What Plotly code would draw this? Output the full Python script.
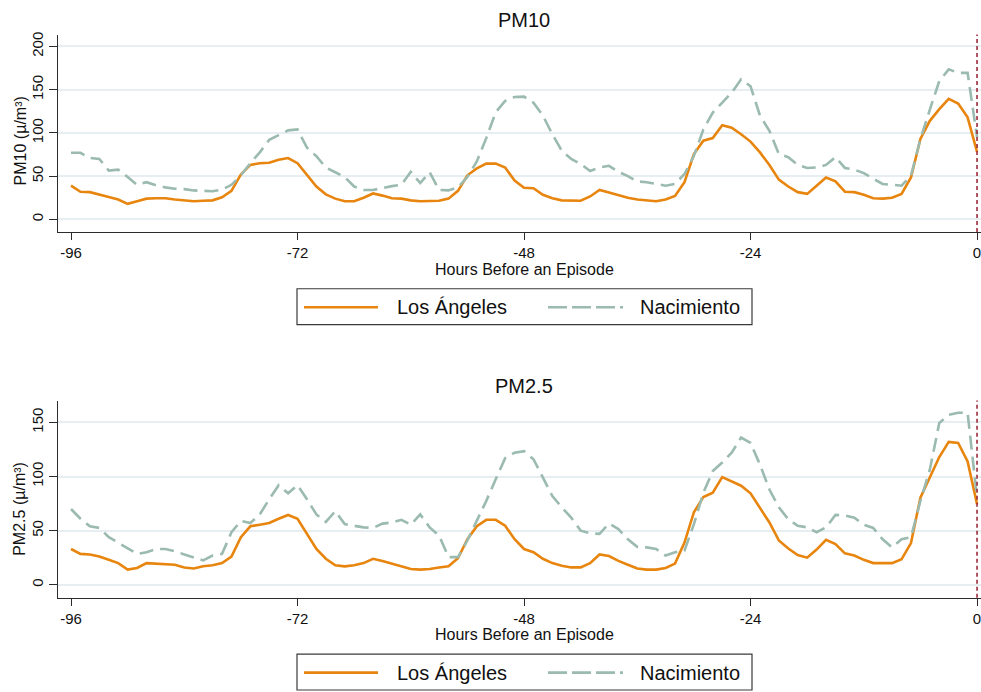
import plotly.graph_objects as go

# ---------------- data ----------------
hours = list(range(-96, 1))

pm10_los_angeles = [
    39, 32, 31.5, 29, 26, 23, 18, 21, 24, 24.5, 24.5, 23, 22, 21, 21.5, 22, 25.5, 33, 52, 63,
    65, 65.5, 69, 71, 65, 51, 38, 29,
    24, 21, 21, 25, 30, 27.5, 24.5, 24, 22, 21, 21, 21.5, 24, 33, 51, 59, 64.5, 64.5, 60, 45,
    36.5, 36, 28.5, 24.5, 22, 22, 21.5, 26.5, 34, 31, 28, 25, 23, 22,
    21, 23, 27, 43, 75.5, 91, 94, 109, 106, 98.5, 90, 77.5, 63, 46, 38, 31.5, 29.5, 39, 48.5,
    44, 32, 31.5, 28.5, 24.5, 24, 25, 29.5, 48.5, 93, 114, 127.5, 139.5, 134, 118, 78,
]
pm10_nacimiento = [
    77, 77, 71, 70, 56.5, 57.5, 49, 40, 43, 39.5, 37, 35.5, 35, 33.5, 33, 32.5, 34.5, 40, 51, 65,
    77.5, 92, 97.5, 103, 104, 83, 73, 60,
    54.5, 49, 38, 34, 34, 36.5, 38.5, 40, 55, 42, 54.5, 34, 33.5, 37, 49, 67, 94, 124, 137, 141.5,
    142, 135, 120, 98.5, 79.5, 70, 64, 56, 60, 62, 55, 50, 44, 43,
    41, 39, 41, 52.5, 73.5, 104, 123.5, 135, 146.5, 162, 154, 120, 102.5, 75.5, 72, 63, 59.5, 60, 63,
    72, 59.5, 57.5, 53.5, 47, 41, 40, 39, 50.5, 93, 127, 160, 173.5, 169.5, 169.5, 95,
]
pm25_los_angeles = [
    33, 28.5, 28, 26, 23, 20, 14, 15.5, 20, 19.5, 19.5, 18.5, 16, 15, 17, 18, 20, 26, 44, 54,
    55.5, 57, 61, 64.5, 61, 47, 33, 24,
    18, 17, 18, 20, 24, 22, 19.5, 17, 14.5, 14, 14.5, 16, 17, 24.5, 42, 54, 60, 60, 54.5, 42,
    33, 30, 24, 20, 17.5, 16, 16, 20, 28, 26.5, 22, 18.5, 15, 14,
    14, 15.5, 19.5, 39, 67, 81, 85, 99.5, 95.5, 91.5, 84.5, 71.5, 57.5, 41, 33.5, 27.5, 25, 32.5, 41.5,
    37.5, 29, 27, 23, 20, 20, 20, 23.5, 38.5, 80.5, 99.5, 118, 132, 131, 114, 74.5,
]
pm25_nacimiento = [
    70, 61, 54, 52.5, 44, 39, 34, 28.5, 30, 33, 33, 31, 28, 25.5, 22.5, 27, 28.5, 48.5, 59, 57,
    65, 79, 92, 84.5, 92, 79, 65, 58,
    68, 56, 54.5, 53, 52.5, 56.5, 57.5, 60, 55.5, 65, 53, 45.5, 25.5, 25.5, 41, 59, 77.5, 97.5, 117, 122,
    123.5, 116, 99, 82, 71.5, 62, 50, 47.5, 47, 56.5, 51.5, 42, 35, 34.5,
    33, 27, 30, 31.5, 56, 85, 105, 113, 122, 136, 131, 111, 88, 71.5, 60.5, 54.5, 53, 48.5, 53,
    64.5, 64, 62, 55.5, 52.5, 42, 34.5, 42, 44, 77.5, 106.5, 149.5, 157, 159, 159, 80,
]

series_names = ["Los Ángeles", "Nacimiento"]
x_ticks = [-96, -72, -48, -24, 0]
x_tick_labels = ["-96", "-72", "-48", "-24", "0"]
y_ticks_pm10 = [0, 50, 100, 150, 200]
y_ticks_pm25 = [0, 50, 100, 150]
panel_titles = ["PM10", "PM2.5"]
y_titles = ["PM10 (µ/m³)", "PM2.5 (µ/m³)"]
x_title = "Hours Before an Episode"

# ---------------- style ----------------
W, H = 981, 692
ML, MR = 58, 0
PW = W - ML - MR
FONT = "Liberation Sans, Arial, Helvetica, sans-serif"
ORANGE = "#e8850e"
TEAL = "#9bbab0"
RED = "#9e2a3a"
GRID = "#e6eef1"
AXIS = "#2b2b2b"


def px_x(px):
    return (px - ML) / PW


def px_y(py):
    return 1 - py / H


fig = go.Figure()

panels = [
    (pm10_los_angeles, pm10_nacimiento, "x", "y"),
    (pm25_los_angeles, pm25_nacimiento, "x2", "y2"),
]
for la, na, xa, ya in panels:
    fig.add_trace(go.Scatter(x=hours, y=la, mode="lines", name=series_names[0],
                             line=dict(color=ORANGE, width=2.6), xaxis=xa, yaxis=ya,
                             showlegend=False))
    fig.add_trace(go.Scatter(x=hours, y=na, mode="lines", name=series_names[1],
                             line=dict(color=TEAL, width=2.6, dash="14px,7px"), xaxis=xa, yaxis=ya,
                             showlegend=False))

xcommon = dict(range=[-97.38, 0.42], tickvals=x_ticks, ticktext=x_tick_labels, ticks="outside",
               ticklen=7, tickwidth=1.3, tickcolor=AXIS, showline=True, linecolor=AXIS,
               linewidth=1.3, showgrid=False, zeroline=False, ticklabeloverflow="allow",
               tickfont=dict(family=FONT, size=15, color="#111"), domain=[0, 1])
ycommon = dict(ticks="outside", ticklen=8, tickwidth=1.3, tickcolor=AXIS, showline=True,
               linecolor=AXIS, linewidth=1.3, showgrid=True, gridcolor=GRID, gridwidth=1.5,
               zeroline=False, tickangle=-90, tickfont=dict(family=FONT, size=15, color="#111"))

# pixel extents of plot areas
top_y0, top_y1 = 31.7, 230.0
bot_y0, bot_y1 = 399.3, 597.3

fig.update_layout(
    width=W, height=H,
    margin=dict(l=ML, r=MR, t=0, b=0),
    paper_bgcolor="white", plot_bgcolor="white",
    showlegend=False,
    xaxis=dict(anchor="y", **xcommon),
    xaxis2=dict(anchor="y2", **xcommon),
    yaxis=dict(anchor="x", range=[-14.6, 213.8], tickvals=y_ticks_pm10,
               domain=[px_y(top_y1), px_y(top_y0)], **ycommon),
    yaxis2=dict(anchor="x2", range=[-12.0, 170.2], tickvals=y_ticks_pm25,
                domain=[px_y(bot_y1), px_y(bot_y0)], **ycommon),
)

# vertical dotted episode line at hour 0
for xr, yr in [("x", "y"), ("x2", "y2")]:
    fig.add_shape(type="line", xref=xr, yref=f"{yr} domain", x0=0, x1=0, y0=0, y1=1,
                  line=dict(color=RED, width=1.6, dash="4px,3px"))

annotations = []
# panel titles
for title, py in zip(panel_titles, [17, 384.5]):
    annotations.append(dict(text=title, x=px_x(524), y=px_y(py), xref="paper", yref="paper",
                            xanchor="center", yanchor="middle", showarrow=False,
                            font=dict(family=FONT, size=20, color="#111")))
# x axis titles
for py in [268, 634]:
    annotations.append(dict(text=x_title, x=px_x(524), y=px_y(py), xref="paper", yref="paper",
                            xanchor="center", yanchor="middle", showarrow=False,
                            font=dict(family=FONT, size=16, color="#111")))
# y axis titles
for title, py in zip(y_titles, [139, 508]):
    annotations.append(dict(text=title, x=px_x(20), y=px_y(py), xref="paper", yref="paper",
                            xanchor="center", yanchor="middle", showarrow=False, textangle=-90,
                            font=dict(family=FONT, size=16, color="#111")))

# legends (one under each panel)
shapes = []
for box_top in [287, 654]:
    box_bot = box_top + 36
    cy = box_top + 18.5
    shapes.append(dict(type="rect", xref="paper", yref="paper", x0=px_x(297), x1=px_x(752),
                       y0=px_y(box_bot), y1=px_y(box_top), line=dict(color="#3a3a3a", width=1.2),
                       fillcolor="white", layer="above"))
    shapes.append(dict(type="line", xref="paper", yref="paper", x0=px_x(304), x1=px_x(378),
                       y0=px_y(cy), y1=px_y(cy), line=dict(color=ORANGE, width=2.6)))
    shapes.append(dict(type="line", xref="paper", yref="paper", x0=px_x(548), x1=px_x(623),
                       y0=px_y(cy), y1=px_y(cy), line=dict(color=TEAL, width=2.6, dash="19px,5px")))
    annotations.append(dict(text=series_names[0], x=px_x(395), y=px_y(cy), xref="paper",
                            yref="paper", xanchor="left", yanchor="middle", showarrow=False,
                            font=dict(family=FONT, size=20, color="#111")))
    annotations.append(dict(text=series_names[1], x=px_x(638), y=px_y(cy), xref="paper",
                            yref="paper", xanchor="left", yanchor="middle", showarrow=False,
                            font=dict(family=FONT, size=20, color="#111")))

for s in shapes:
    fig.add_shape(**s)
fig.update_layout(annotations=annotations)

fig.write_html("out.html")
